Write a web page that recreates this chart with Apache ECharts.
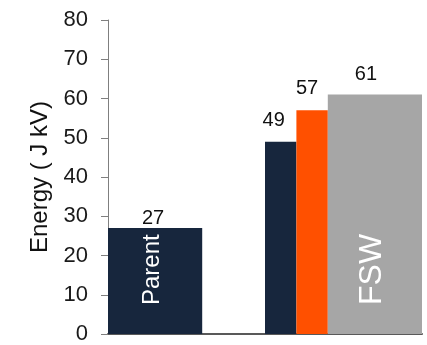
<!DOCTYPE html>
<html>
<head>
<meta charset="utf-8">
<script src="https://cdn.jsdelivr.net/npm/echarts@6/dist/echarts.min.js"></script>
<style>
  html, body { margin: 0; padding: 0; background: #fff; }
  #chart { width: 427px; height: 345px; }
</style>
</head>
<body>
<div id="chart"></div>
<script>
// Impact energy per sample group
const groups = ['Parent', 'FSW'];
const parentEnergy = [27];
const fswEnergy = [49, 57, 61];
const yTicks = [0, 10, 20, 30, 40, 50, 60, 70, 80];
const yAxisTitle = 'Energy ( J kV)';

const FONT = '"Liberation Sans", Arial, sans-serif';

// Each group's band is split into 5 equal units; bars sit side by side from the band's left edge.
// gap/dx place the value label relative to the bar's top centre.
const barLayout = [
  { start: 0, span: 3, color: '#17263d', gap: 10, dx: -2, inner: 'Parent', innerSize: 24 },
  { start: 0, span: 1, color: '#17263d', gap: 21, dx: -7 },
  { start: 1, span: 1, color: '#ff5000', gap: 22, dx: -5 },
  { start: 2, span: 3, color: '#a6a6a6', gap: 20, dx: -9, inner: 'FSW', innerSize: 32 }
];

const barData = [];
parentEnergy.forEach(v => barData.push([0, v, barData.length]));
fswEnergy.forEach(v => barData.push([1, v, barData.length]));

function renderBar(params, api) {
  const g = api.value(0);
  const v = api.value(1);
  const lay = barLayout[api.value(2)];
  const band = api.size([1, 0])[0];
  const unit = band / 5;
  const base = api.coord([g, 0]);
  const top = api.coord([g, v])[1];
  const left = base[0] - band / 2 + lay.start * unit;
  const w = lay.span * unit;
  const children = [
    { type: 'rect', shape: { x: left, y: top, width: w, height: base[1] - top },
      style: { fill: lay.color } },
    { type: 'text', x: left + w / 2 + lay.dx, y: top - lay.gap,
      style: { text: String(v), fill: '#111', font: '20px ' + FONT, align: 'center', verticalAlign: 'middle' } }
  ];
  if (lay.inner) {
    children.push({ type: 'text', x: left + w / 2 - 3, y: base[1] - 29, rotation: Math.PI / 2,
      style: { text: lay.inner, fill: '#ffffff', font: lay.innerSize + 'px ' + FONT, align: 'left', verticalAlign: 'middle' } });
  }
  return { type: 'group', children };
}

const chart = echarts.init(document.getElementById('chart'), null, { renderer: 'canvas' });
chart.setOption({
  animation: false,
  backgroundColor: '#ffffff',
  grid: { left: 108, right: 5, top: 20, bottom: 10, containLabel: false },
  xAxis: {
    type: 'category',
    data: groups,
    boundaryGap: true,
    axisLine: { lineStyle: { color: '#595959', width: 2 } },
    axisTick: { show: false },
    axisLabel: { show: false }
  },
  yAxis: {
    type: 'value',
    min: yTicks[0],
    max: yTicks[yTicks.length - 1],
    interval: yTicks[1] - yTicks[0],
    name: yAxisTitle,
    nameLocation: 'middle',
    nameGap: 56,
    nameTextStyle: { fontFamily: FONT, fontSize: 24, color: '#111' },
    axisLine: { show: true, lineStyle: { color: '#7f7f7f', width: 1 } },
    axisTick: { show: true, length: 7, lineStyle: { color: '#7f7f7f' } },
    axisLabel: { fontFamily: FONT, fontSize: 22, color: '#1a1a1a', margin: 20 },
    splitLine: { show: false }
  },
  series: [{
    type: 'custom',
    renderItem: renderBar,
    data: barData,
    encode: { x: 0, y: 1 },
    clip: false
  }]
});
</script>
</body>
</html>
